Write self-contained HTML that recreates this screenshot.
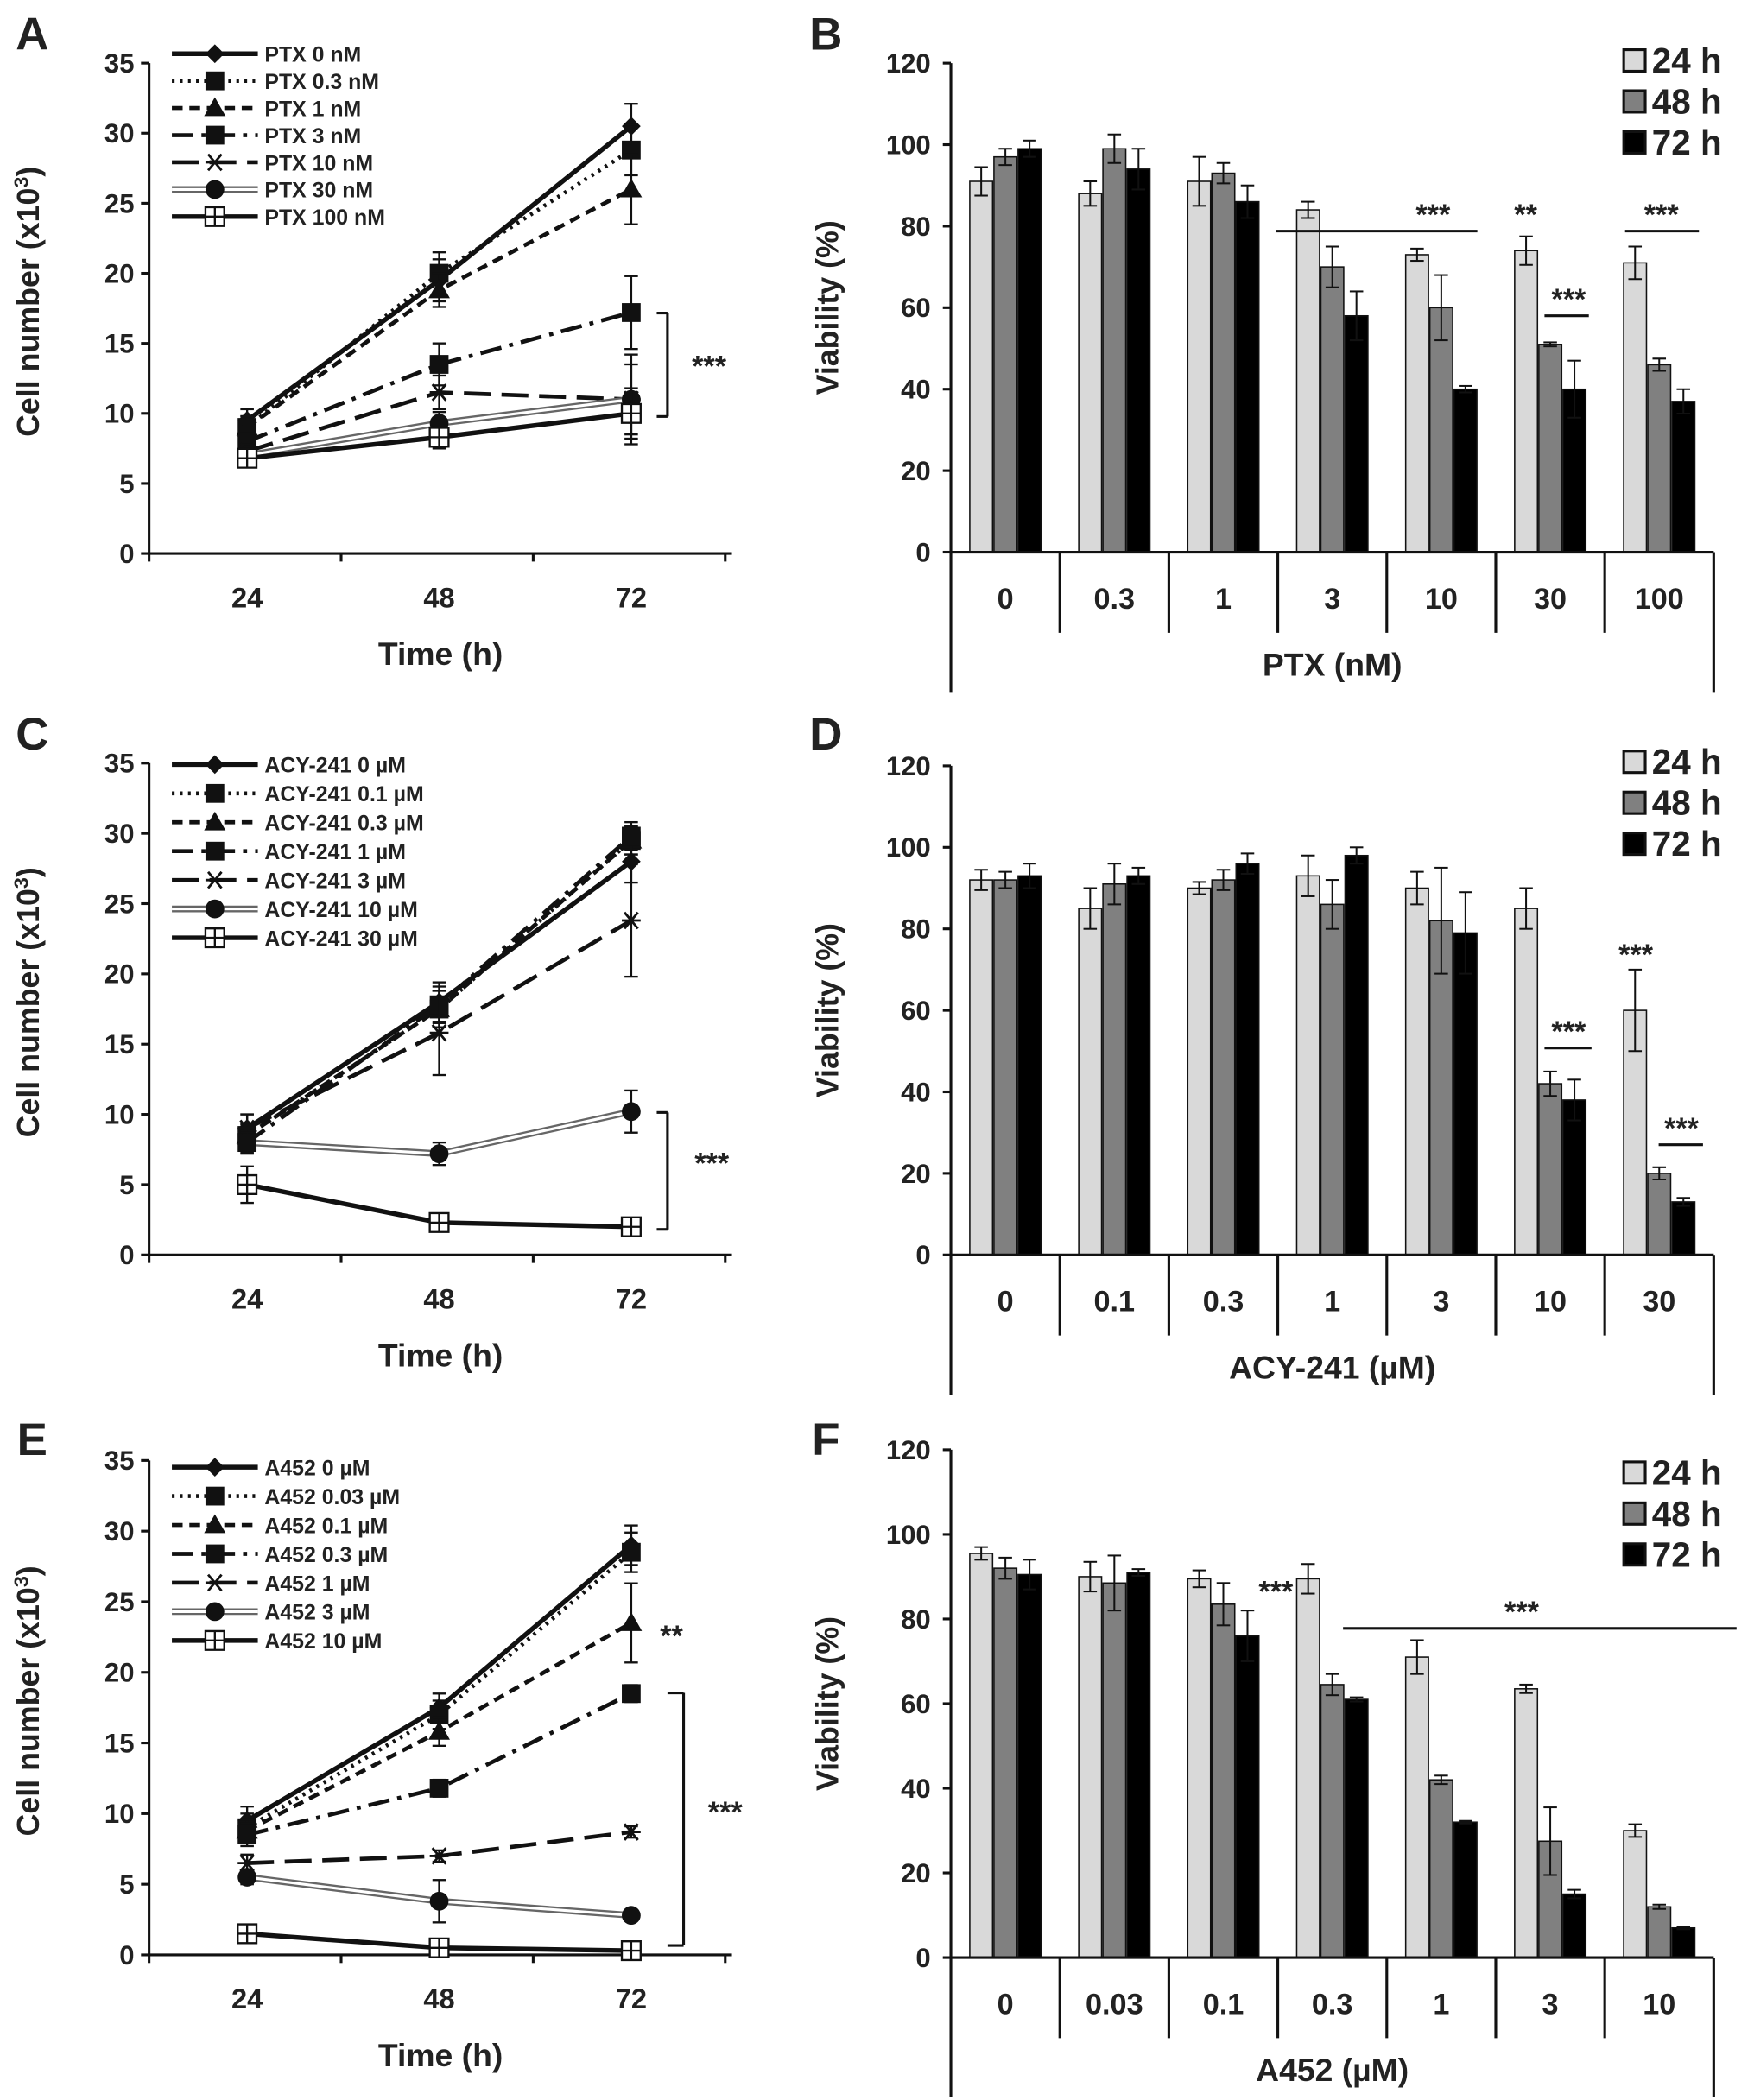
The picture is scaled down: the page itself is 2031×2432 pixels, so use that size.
<!DOCTYPE html>
<html><head><meta charset="utf-8"><style>
html,body{margin:0;padding:0;background:#fff}
svg{display:block}
text{font-family:"Liberation Sans",Arial,sans-serif;font-weight:bold;fill:#222}
</style></head><body>
<svg id="fig" xmlns="http://www.w3.org/2000/svg" width="2031" height="2432" viewBox="0 0 1306 1563" preserveAspectRatio="none"></svg>
<script>
const timeLabels=["24","48","72"];
const yTicksLine=[0,5,10,15,20,25,30,35];
const yTicksBar=[0,20,40,60,80,100,120];
const barLegend=["24 h","48 h","72 h"];
// Panel A
const aNames=["PTX 0 nM","PTX 0.3 nM","PTX 1 nM","PTX 3 nM","PTX 10 nM","PTX 30 nM","PTX 100 nM"];
const aVals=[[9.5,19.5,30.5],[9,20,28.8],[9,18.8,26],[8,13.5,17.2],[7.3,11.5,11],[7,9.3,11],[6.8,8.3,10]];
const aErr=[[0.8,1.5,1.6],[0.8,1.5,1.8],[0.8,1.2,2.5],[0.6,1.5,2.6],[0.5,1.2,3.2],[0.5,0.8,2.5],[0.5,0.8,1.8]];
// Panel C
const cNames=["ACY-241 0 µM","ACY-241 0.1 µM","ACY-241 0.3 µM","ACY-241 1 µM","ACY-241 3 µM","ACY-241 10 µM","ACY-241 30 µM"];
const cVals=[[9,18,28],[8.5,17.5,29.5],[8.5,17.5,29.5],[8,17.8,29.8],[9,15.8,23.8],[8,7.2,10.2],[5,2.3,2]];
const cErr=[[1,1.4,1.5],[0.8,1.3,1],[0.8,1.3,1],[0.8,1.3,1],[1,3,4],[0.7,0.8,1.5],[1.3,0.4,0.3]];
// Panel E
const eNames=["A452 0 µM","A452 0.03 µM","A452 0.1 µM","A452 0.3 µM","A452 1 µM","A452 3 µM","A452 10 µM"];
const eVals=[[9.5,17.5,29],[9,17,28.5],[8.8,15.8,23.5],[8.5,11.8,18.5],[6.5,7,8.7],[5.5,3.8,2.8],[1.5,0.5,0.3]];
const eErr=[[1,1,1.4],[1,1,1.4],[0.8,1,2.8],[0.8,0.6,0.6],[0.6,0.4,0.4],[0.5,1.5,0.3],[0.4,0.3,0.2]];
// Panel B
const bCats=["0","0.3","1","3","10","30","100"];
const bVals=[[91,88,91,84,73,74,71],[97,99,93,70,60,51,46],[99,94,86,58,40,40,37]];
const bErr=[[3.5,3,6,2,1.5,3.5,4],[2,3.5,2.5,5,8,0.5,1.5],[2,5,4,6,0.8,7,3]];
// Panel D
const dCats=["0","0.1","0.3","1","3","10","30"];
const dVals=[[92,85,90,93,90,85,60],[92,91,92,86,82,42,20],[93,93,96,98,79,38,13]];
const dErr=[[2.5,5,1.5,5,4,5,10],[2,5,2.5,6,13,3,1.5],[3,2,2.5,2,10,5,1]];
// Panel F
const fCats=["0","0.03","0.1","0.3","1","3","10"];
const fVals=[[95.5,90,89.5,89.5,71,63.5,30],[92,88.5,83.5,64.5,42,27.5,12],[90.5,91,76,61,32,15,7]];
const fErr=[[1.5,3.5,2,3.5,4,1,1.5],[2.5,6.5,5,2.5,1,8,0.5],[3.5,0.8,6,0.5,0.3,1,0.3]];

const NS="http://www.w3.org/2000/svg";
const svg=document.getElementById('fig');
function mk(tag,attrs,parent,txt){const e=document.createElementNS(NS,tag);for(const k in attrs)e.setAttribute(k,attrs[k]);if(txt!==undefined)e.textContent=txt;(parent||svg).appendChild(e);return e;}
function grp(name){const g=mk('g',{});return g;}
function txt(g,x,y,s,size,anchor,name,extra){const t=mk('text',Object.assign({x:x,y:y,'font-size':size,'text-anchor':anchor||'middle'},extra||{}),g,s);return t;}
function line(g,x1,y1,x2,y2,w,extra){return mk('line',Object.assign({x1:x1,y1:y1,x2:x2,y2:y2,stroke:'#111','stroke-width':w||1.5},extra||{}),g);}

const styles=[
 {dash:'',w:3.5,m:'diamond'},
 {dash:'2 4',w:3,m:'square'},
 {dash:'8 5',w:3,m:'triangle'},
 {dash:'16 6 3 6',w:3,m:'square'},
 {dash:'20 8',w:3,m:'star'},
 {dash:'',w:0,m:'circle',dbl:true},
 {dash:'',w:3.5,m:'opensq'}];
function marker(g,type,x,y){
 let e;
 if(type==='diamond')e=mk('polygon',{points:`${x},${y-7} ${x+7},${y} ${x},${y+7} ${x-7},${y}`,fill:'#111'},g);
 else if(type==='square')e=mk('rect',{x:x-7,y:y-7,width:14,height:14,fill:'#111'},g);
 else if(type==='triangle')e=mk('polygon',{points:`${x},${y-8} ${x+8},${y+6} ${x-8},${y+6}`,fill:'#111'},g);
 else if(type==='circle')e=mk('circle',{cx:x,cy:y,r:7,fill:'#111'},g);
 else if(type==='star'){e=mk('path',{d:`M${x-7} ${y}H${x+7}M${x-5} ${y-6}L${x+5} ${y+6}M${x+5} ${y-6}L${x-5} ${y+6}`,stroke:'#111','stroke-width':1.8,fill:'none'},g);}
 else {e=mk('path',{d:`M${x-7} ${y-7}h14v14h-14zM${x} ${y-7}v14M${x-7} ${y}h14`,stroke:'#111','stroke-width':1.5,fill:'#fff'},g);}
 
}
function linePanel(cfg){
 const g=grp(cfg.name);
 const y0=cfg.y0,yt=cfg.yt;
 const Y=v=>y0-v/35*(y0-yt);
 const X=i=>184+143*i;
 txt(g,24,cfg.letterY,cfg.letter,34,'middle','panel-letter');
 line(g,111,yt,111,y0,2);line(g,111,y0,545,y0,2);
 yTicksLine.forEach(v=>{line(g,105,Y(v),111,Y(v),2);txt(g,100,Y(v)+7,v,20,'end','y-tick-label');});
 [0,1,2,3].forEach(k=>line(g,111+143*k,y0,111+143*k,y0+6,2));
 timeLabels.forEach((l,i)=>txt(g,X(i),y0+40,l,21,'middle','x-tick-label'));
 txt(g,328,y0+83,'Time (h)',24,'middle','x-axis-title');
 const yt2=txt(g,0,0,'',23,'middle','y-axis-title',{transform:`translate(29,${(y0+yt)/2-5}) rotate(-90)`});
 yt2.innerHTML='Cell number (x10<tspan dy="-8" font-size="15">3</tspan><tspan dy="8">)</tspan>';
 cfg.vals.forEach((vs,s)=>{
  const st=styles[s];const sg=grp('series-'+s);g.appendChild(sg);
  vs.forEach((v,i)=>{const e=cfg.err[s][i];line(sg,X(i),Y(v+e),X(i),Y(v-e),1.5);line(sg,X(i)-5,Y(v+e),X(i)+5,Y(v+e),1.5);line(sg,X(i)-5,Y(v-e),X(i)+5,Y(v-e),1.5);});
  const pts=vs.map((v,i)=>X(i)+','+Y(v)).join(' ');
  if(st.dbl){mk('polyline',{points:pts,fill:'none',stroke:'#666','stroke-width':5},sg);mk('polyline',{points:pts,fill:'none',stroke:'#fff','stroke-width':2},sg);}
  else mk('polyline',{points:pts,fill:'none',stroke:'#111','stroke-width':st.w,'stroke-dasharray':st.dash},sg);
  vs.forEach((v,i)=>marker(sg,st.m,X(i),Y(v)));
  const ly=cfg.legY+cfg.legStep*s;
  const lg=grp('legend-entry');g.appendChild(lg);
  if(st.dbl){line(lg,128,ly,192,ly,5,{stroke:'#666'});line(lg,128,ly,192,ly,2,{stroke:'#fff'});}
  else line(lg,128,ly,192,ly,st.w,{'stroke-dasharray':st.dash});
  marker(lg,st.m,160,ly);
  txt(lg,197,ly+6,cfg.names[s],16,'start','legend-label');
 });
 cfg.anno(g,Y);
}
function barPanel(cfg){
 const g=grp(cfg.name);
 const y0=cfg.y0,yt=cfg.yt;
 const Y=v=>y0-v/120*(y0-yt);
 const gw=568/7;const C=i=>708+gw*(i+0.5);
 txt(g,615,cfg.letterY,cfg.letter,34,'middle','panel-letter');
 const fills=['#d9d9d9','#808080','#000'];
 cfg.vals.forEach((vs,s)=>{
  vs.forEach((v,i)=>{
   const x=C(i)+(s-1)*18;
   const r=mk('rect',{x:x-8.5,y:Y(v),width:17,height:y0-Y(v),fill:fills[s],stroke:'#111','stroke-width':1},g);
   
   const e=cfg.err[s][i];
   line(g,x,Y(v+e),x,Y(v-e),1.3);line(g,x-5,Y(v+e),x+5,Y(v+e),1.3);line(g,x-5,Y(v-e),x+5,Y(v-e),1.3);
  });
 });
 line(g,708,yt,708,y0+104,2);line(g,708,y0,1276,y0,2);line(g,1276,y0,1276,y0+104,2);
 for(let k=1;k<7;k++)line(g,708+gw*k,y0,708+gw*k,y0+60,2);
 yTicksBar.forEach(v=>{line(g,702,Y(v),708,Y(v),2);txt(g,693,Y(v)+7,v,20,'end','y-tick-label');});
 cfg.cats.forEach((c,i)=>txt(g,C(i),y0+42,c,22,'middle','x-tick-label'));
 txt(g,992,y0+92,cfg.title,24,'middle','x-axis-title');
 txt(g,0,0,'Viability (%)',23,'middle','y-axis-title',{transform:`translate(624,${(y0+yt)/2}) rotate(-90)`});
 barLegend.forEach((l,s)=>{const ly=cfg.legY+30.5*s;const lg=grp('legend-entry');g.appendChild(lg);
  mk('rect',{x:1209,y:ly-8,width:16,height:16,fill:fills[s],stroke:'#111','stroke-width':2},lg);txt(lg,1230,ly+9,l,26,'start','legend-label');});
 cfg.anno(g,Y,C);
}
function stars(g,x,y,s){txt(g,x,y,s||'***',22,'middle','significance-mark');}
linePanel({name:'panel-a',letter:'A',letterY:37,y0:412,yt:47,legY:40,legStep:20.2,names:aNames,vals:aVals,err:aErr,anno:(g,Y)=>{
 line(g,497,233,497,310,2);line(g,489,233,497,233,2);line(g,489,310,497,310,2);stars(g,528,280);}});
linePanel({name:'panel-c',letter:'C',letterY:558,y0:934,yt:568,legY:569,legStep:21.5,names:cNames,vals:cVals,err:cErr,anno:(g,Y)=>{
 line(g,497,828,497,915,2);line(g,489,828,497,828,2);line(g,489,915,497,915,2);stars(g,530,873);}});
linePanel({name:'panel-e',letter:'E',letterY:1083,y0:1455,yt:1087,legY:1092,legStep:21.5,names:eNames,vals:eVals,err:eErr,anno:(g,Y)=>{
 line(g,509,1260,509,1448,2);line(g,497,1260,509,1260,2);line(g,497,1448,509,1448,2);stars(g,540,1356);stars(g,500,1225,'**');}});
barPanel({name:'panel-b',letter:'B',letterY:37,y0:411,yt:47,legY:45,cats:bCats,vals:bVals,err:bErr,title:'PTX (nM)',anno:(g)=>{
 line(g,950,172,1100,172,2);stars(g,1067,167);stars(g,1136,167,'**');line(g,1150,235,1183,235,2);stars(g,1168,230);line(g,1210,172,1265,172,2);stars(g,1237,167);}});
barPanel({name:'panel-d',letter:'D',letterY:558,y0:934,yt:570,legY:567,cats:dCats,vals:dVals,err:dErr,title:'ACY-241 (µM)',anno:(g)=>{
 stars(g,1218,718);line(g,1150,780,1185,780,2);stars(g,1168,775);line(g,1235,852,1268,852,2);stars(g,1252,847);}});
barPanel({name:'panel-f',letter:'F',letterY:1083,y0:1457,yt:1079,legY:1096,cats:fCats,vals:fVals,err:fErr,title:'A452 (µM)',anno:(g)=>{
 stars(g,950,1192);line(g,1000,1212,1293,1212,2);stars(g,1133,1207);}});
</script>
</body></html>
